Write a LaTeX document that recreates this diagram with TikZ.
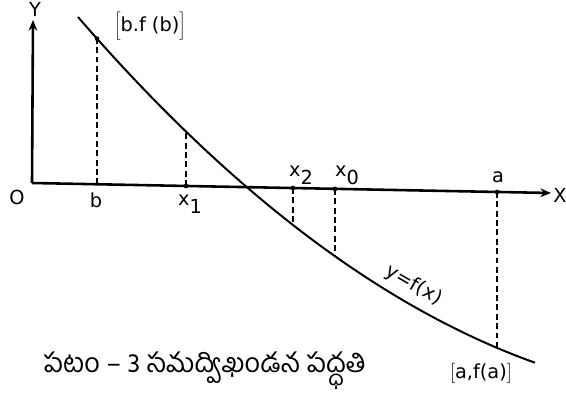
\documentclass[tikz,border=0pt]{standalone}
\usepackage{fontspec}
\setmainfont{DejaVu Sans}
\newfontfamily\telugu[Script=Telugu]{Hind Guntur}
\usepackage{tikz}
\usetikzlibrary{arrows.meta}
\newcommand\lowsub[1]{\raisebox{-0.4em}{#1}}

\begin{document}
\begin{tikzpicture}[x=0.03cm,y=-0.03cm,
  axis/.style={line width=2.2pt,-{Stealth[length=3.2mm,width=2.6mm]}},
  curve/.style={line width=1.7pt},
  guide/.style={line width=1.4pt,dash pattern=on 5pt off 3pt},
  lbl/.style={font=\fontsize{16.5}{18}\selectfont,inner sep=1pt},
  dot/.style={circle,fill,inner sep=0pt,minimum size=4pt}
]
\useasboundingbox (0,0) rectangle (566,394);
% axes
\coordinate (O) at (32,183);
\coordinate (ytip) at (33,20);
\coordinate (xtip) at (551,193);
\draw[axis] (O) -- (ytip);
\draw[axis] (O) -- (xtip);
\node[lbl] (ylab) at (35,9) {Y};
\node[lbl] (xlab) at (560,195) {X};
\node[lbl] (olab) at (17,197) {O};
% the curve y = f(x)
\draw[curve] plot[domain=0.78:5.35,samples=60,smooth] ({100*\x},{-78.39+129.1*\x-8.72*\x*\x});
% points on the x axis and on the curve
\coordinate (b) at (97,184.3);   \coordinate (fb) at (97,38.6);
\coordinate (x1) at (186,186.0); \coordinate (fx1) at (186,131.6);
\coordinate (x2) at (293,188.0); \coordinate (fx2) at (293,225.0);
\coordinate (x0) at (335,188.9); \coordinate (fx0) at (335,256.2);
\coordinate (a) at (497,192.0);  \coordinate (fa) at (497,347.8);
\draw[guide] (b) -- (fb);
\draw[guide] (x1) -- (fx1);
\draw[guide] (x2) -- (fx2);
\draw[guide] (x0) -- (fx0);
\draw[guide] (a) -- (fa);
\foreach \p in {fb,x1,x2,x0,a} \node[dot] at (\p) {};
% labels
\node[lbl] (blab) at (96,200) {b};
\node[lbl] (x1lab) at (190,204) {x\lowsub{1}};
\node[lbl] (x2lab) at (301,175) {x\lowsub{2}};
\node[lbl] (x0lab) at (347,175) {x\lowsub{0}};
\node[lbl] (alab) at (498,177) {a};
\node[lbl] (fblab) at (150,26) {$\bigg[$b.f (b)$\bigg]$};
\node[lbl,rotate=-30] (curvelab) at (414,285) {y=f(x)};
\node[lbl] (falab) at (481,373) {$\Big[$a,f(a)$\Big]$};
\node[font=\telugu\fontsize{23}{25}\selectfont,inner sep=0pt] (caption) at (205,371) {పటం – 3 సమద్విఖండన పద్ధతి};
\end{tikzpicture}
\end{document}
